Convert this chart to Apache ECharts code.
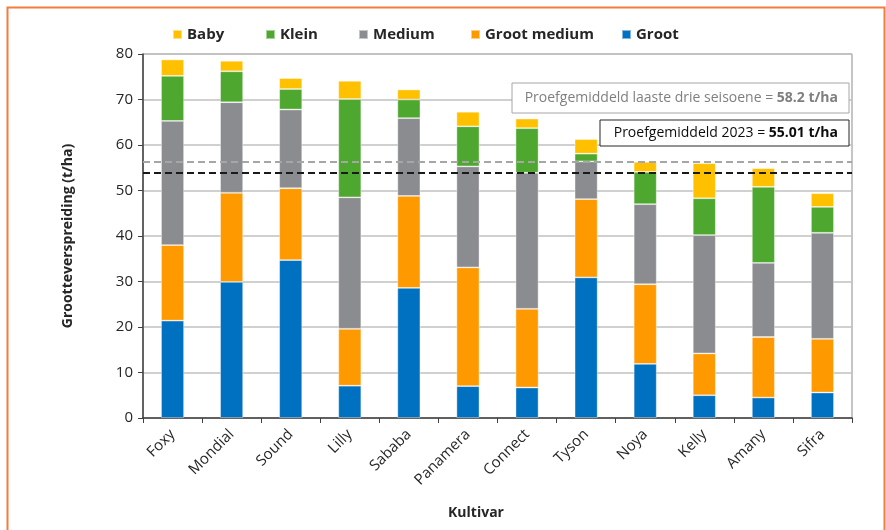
<!DOCTYPE html>
<html>
<head>
<meta charset="utf-8">
<script src="https://cdn.jsdelivr.net/npm/echarts@6/dist/echarts.min.js"></script>
<style>
html,body{margin:0;padding:0;background:#fff;}
#c{width:886px;height:530px;}
</style>
</head>
<body>
<div id="c"></div>
<script>
const categories = ['Foxy','Mondial','Sound','Lilly','Sababa','Panamera','Connect','Tyson','Noya','Kelly','Amany','Sifra'];
const groot       = [21.4, 29.9, 34.7,  7.1, 28.6,  7.0,  6.7, 30.9, 11.9,  5.0,  4.5,  5.6];
const grootMedium = [16.6, 19.6, 15.8, 12.5, 20.2, 26.1, 17.3, 17.2, 17.5,  9.2, 13.3, 11.8];
const medium      = [27.3, 19.9, 17.3, 28.9, 17.1, 22.2, 29.9,  8.3, 17.6, 26.0, 16.3, 23.3];
const klein       = [ 9.9,  6.8,  4.5, 21.6,  4.1,  8.8,  9.8,  1.7,  7.1,  8.1, 16.7,  5.7];
const baby        = [ 3.6,  2.3,  2.4,  4.0,  2.2,  3.2,  2.1,  3.2,  2.2,  7.7,  4.1,  3.0];
const yTicks = [0, 10, 20, 30, 40, 50, 60, 70, 80];
// reference lines as drawn on the chart, and their labelled values
const refLineThreeSeasons = 56.4;
const refLine2023 = 53.8;
const refLabelThreeSeasons = '58.2 t/ha';
const refLabel2023 = '55.01 t/ha';

const FONT = 'Open Sans';
const chart = echarts.init(document.getElementById('c'));

function legendAt(name, left) {
  return {
    data: [name], left: left, top: 27, padding: 0, itemWidth: 9, itemHeight: 9, itemGap: 0,
    icon: 'rect', selectedMode: false,
    textStyle: { fontFamily: FONT, fontWeight: 'bold', fontSize: 15, color: '#262626' }
  };
}

const barCommon = {
  type: 'bar', stack: 'total', barWidth: 23,
  itemStyle: { borderColor: 'rgba(255,255,255,0.5)', borderWidth: 0.8 }
};

const option = {
  animation: false,
  backgroundColor: '#fff',
  grid: { left: 143, top: 54, width: 709, height: 364, show: true, borderColor: '#8c8c8c', borderWidth: 1, backgroundColor: 'transparent' },
  legend: [
    legendAt('Baby', 172),
    legendAt('Klein', 265),
    legendAt('Medium', 358),
    legendAt('Groot medium', 470),
    legendAt('Groot', 621)
  ],
  xAxis: {
    type: 'category', data: categories,
    axisLine: { lineStyle: { color: '#404040', width: 1.5 } },
    axisTick: { show: true, alignWithLabel: false, length: 5, lineStyle: { color: '#404040' } },
    axisLabel: { rotate: 45, fontFamily: FONT, fontSize: 15, color: '#262626', margin: 14, interval: 0 }
  },
  yAxis: {
    type: 'value', min: 0, max: 80, interval: 10,
    axisLine: { show: true, lineStyle: { color: '#404040', width: 1.5 } },
    axisTick: { show: true, length: 5, lineStyle: { color: '#404040' } },
    axisLabel: { fontFamily: FONT, fontSize: 15, color: '#262626', margin: 10,
      formatter: v => yTicks.includes(v) ? String(v) : '' },
    splitLine: { lineStyle: { color: '#c0c0c0', width: 1.5 } }
  },
  series: [
    Object.assign({}, barCommon, { name: 'Groot', data: groot, color: '#0070C0',
      markLine: {
        silent: true, symbol: 'none', label: { show: false },
        data: [
          { yAxis: refLineThreeSeasons, lineStyle: { color: '#a6a6a6', type: [7, 4], width: 2 } },
          { yAxis: refLine2023, lineStyle: { color: '#1a1a1a', type: [7, 4], width: 2 } }
        ]
      }
    }),
    Object.assign({}, barCommon, { name: 'Groot medium', data: grootMedium, color: '#FF9900' }),
    Object.assign({}, barCommon, { name: 'Medium', data: medium, color: '#8B8C90' }),
    Object.assign({}, barCommon, { name: 'Klein', data: klein, color: '#4EA72E' }),
    Object.assign({}, barCommon, { name: 'Baby', data: baby, color: '#FFC000' })
  ],
  graphic: [
    { type: 'rect', left: 5, top: 5, shape: { width: 877, height: 540 }, style: { fill: 'none', stroke: '#F47C3C', lineWidth: 2 }, silent: true },
    { type: 'text', x: 68, y: 236, rotation: Math.PI / 2,
      style: { text: 'Grootteverspreiding (t/ha)', fontFamily: FONT, fontWeight: 'bold', fontSize: 14, fill: '#262626', align: 'center', verticalAlign: 'middle' } },
    { type: 'text', x: 476, y: 513,
      style: { text: 'Kultivar', fontFamily: FONT, fontWeight: 'bold', fontSize: 14, fill: '#262626', align: 'center', verticalAlign: 'middle' } },
    { type: 'rect', shape: { x: 512, y: 83, width: 337, height: 30 }, style: { fill: '#fff', stroke: '#a6a6a6', lineWidth: 1 }, z: 10 },
    { type: 'text', x: 838, y: 98, z: 11,
      style: { text: '{n|Proefgemiddeld laaste drie seisoene = }{b|' + refLabelThreeSeasons + '}', align: 'right', verticalAlign: 'middle',
        rich: { n: { fontFamily: FONT, fontSize: 14, fill: '#7f7f7f', fontWeight: 'normal' },
                b: { fontFamily: FONT, fontSize: 14, fill: '#7f7f7f', fontWeight: 'bold' } } } },
    { type: 'rect', shape: { x: 600, y: 120, width: 249, height: 26 }, style: { fill: '#fff', stroke: '#262626', lineWidth: 1 }, z: 10 },
    { type: 'text', x: 838, y: 133, z: 11,
      style: { text: '{n|Proefgemiddeld 2023 = }{b|' + refLabel2023 + '}', align: 'right', verticalAlign: 'middle',
        rich: { n: { fontFamily: FONT, fontSize: 14, fill: '#0d0d0d', fontWeight: 'normal' },
                b: { fontFamily: FONT, fontSize: 14, fill: '#0d0d0d', fontWeight: 'bold' } } } }
  ]
};
chart.setOption(option);
</script>
</body>
</html>
